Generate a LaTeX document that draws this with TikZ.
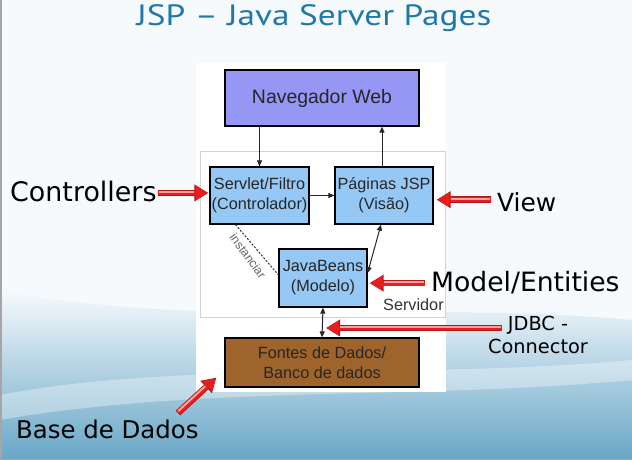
\documentclass[tikz,border=0pt]{standalone}
\usepackage{fontspec}
\setmainfont{Liberation Sans}
\newfontfamily\labelfont{DejaVu Sans}
\newfontfamily\titlefont{PT Sans}
\usetikzlibrary{arrows.meta,calc}
\definecolor{navfill}{RGB}{150,150,245}
\definecolor{boxfill}{RGB}{150,200,245}
\definecolor{dbfill}{RGB}{158,100,44}
\definecolor{titlecol}{RGB}{30,120,170}
\definecolor{calloutred}{RGB}{232,30,30}
\definecolor{callouthi}{RGB}{255,160,160}
\definecolor{calloutedge}{RGB}{175,25,25}
\definecolor{bgtop}{RGB}{246,250,253}
\definecolor{bgbot}{RGB}{104,166,198}
\tikzset{
  diabox/.style={draw=black, line width=1.2bp, inner sep=0pt, align=center,
    text=black!85, font=\fontsize{16.3}{20}\selectfont},
  arr/.style={draw=black!85, line width=1bp, -{Triangle[length=6bp,width=5bp]}},
  biarr/.style={draw=black!85, line width=1bp, {Triangle[length=6bp,width=5bp]}-{Triangle[length=6bp,width=5bp]}},
  callout/.style={draw=calloutedge, line width=6.5bp, -{Triangle[length=14bp,width=16bp]},
    postaction={draw=calloutred, line width=4.8bp, -{Triangle[length=11.5bp,width=13.5bp]}, shorten >=1.2bp},
    postaction={draw=callouthi, line width=2bp, -, shorten >=14bp, shorten <=1.5bp, transform canvas={#1}}},
  callout/.default={yshift=1.2bp},
  lbl/.style={inner sep=0pt, anchor=base west, text=black}
}
\begin{document}
\begin{tikzpicture}[x=1bp,y=-1bp]
\useasboundingbox (0,0) rectangle (632,460);
% slide background
\fill[bgtop] (0,0) rectangle (632,460);
\shade[top color=bgtop, bottom color=bgbot]
  (0,290) .. controls (200,330) and (420,300) .. (632,320) -- (632,460) -- (0,460) -- cycle;
\fill[white, opacity=0.35] (0,395) .. controls (180,360) and (420,380) .. (632,360)
  -- (632,380) .. controls (420,400) and (200,385) .. (0,420) -- cycle;
\draw[gray!70, line width=1.5bp] (0.75,0) -- (0.75,459.25) -- (632,459.25);
% white picture area
\fill[white] (196,63) rectangle (446,392);
% title
\node[inner sep=0pt, anchor=base, text=titlecol, font=\titlefont\fontsize{29.5}{36}\selectfont] (title) at (314,26) {\scalebox{1.2}[1]{JSP – Java Server Pages}};
% server panel
\node[draw=gray!35, line width=0.8bp, fill=white, minimum width=245bp, minimum height=166bp, inner sep=0pt] (server) at (322.5,234) {};
\node[inner sep=0pt, anchor=base west, text=black!80, font=\fontsize{16.3}{20}\selectfont] (servidor) at (383,311) {Servidor};
% diagram boxes
\node[diabox, fill=navfill, minimum width=194bp, minimum height=56bp, font=\fontsize{19.5}{23}\selectfont] (nav) at (322,98) {Navegador Web};
\node[diabox, fill=boxfill, minimum width=99bp, minimum height=57bp] (servlet) at (259.5,195.5) {Servlet/Filtro\\(Controlador)};
\node[diabox, fill=boxfill, minimum width=98bp, minimum height=57bp] (jsp) at (384,195.5) {Páginas JSP\\(Visão)};
\node[diabox, fill=boxfill, minimum width=88bp, minimum height=58bp] (beans) at (323,278) {JavaBeans\\(Modelo)};
\node[diabox, fill=dbfill, minimum width=194bp, minimum height=49bp] (fontes) at (322,362.5) {Fontes de Dados/\\Banco de dados};
% diagram connectors
\draw[arr] (nav.south -| servlet.north) -- (servlet.north);
\draw[arr] (jsp.north) ++(-2,0) coordinate (jspn) -- (jspn |- nav.south);
\draw[arr] (servlet.east) -- (jsp.west);
\draw[biarr] ($(beans.east)+(0,-5)$) -- ($(jsp.south)+(-3,0)$);
\draw[biarr] (beans.south) -- (fontes.north);
\draw[draw=black!80, line width=1bp, dash pattern=on 2bp off 1.6bp]
  ($(servlet.south)+(-24,0)$) -- ($(beans.west)+(0,-3)$);
\node[inner sep=0pt, rotate=-54, text=black!60, font=\fontsize{12.3}{14}\selectfont] (inst) at (248,256) {instanciar};
% callout labels
\node[lbl, font=\labelfont\fontsize{27}{32}\selectfont] (ctrl) at (10,202) {Controllers};
\node[lbl, font=\labelfont\fontsize{25}{30}\selectfont] (view) at (497,212) {View};
\node[lbl, font=\labelfont\fontsize{26.7}{32}\selectfont] (model) at (431,292) {Model/Entities};
\node[inner sep=0pt, anchor=base, align=center, text=black, font=\labelfont\fontsize{19.4}{23}\selectfont] (jdbc) at (538,353) {JDBC -\\Connector};
\node[lbl, font=\labelfont\fontsize{24.5}{30}\selectfont] (base) at (16,438) {Base de Dados};
\coordinate (jdbcstart) at (502,328);
\coordinate (basestart) at (178,413);
% callout arrows
\draw[callout] ($(ctrl.east)+(1,1)$) -- ($(ctrl.east -| servlet.west)+(-1,1)$);
\draw[callout] ($(view.west)+(-6,-3)$) -- ($(view.west -| jsp.east)+(3,-3)$);
\draw[callout] ($(model.west)+(-6,0)$) -- ($(model.west -| beans.east)+(2,0)$);
\draw[callout] (jdbcstart) -- ($(jdbcstart -| beans.south)+(3,0)$);
\draw[callout={xshift=-0.9bp,yshift=0.9bp}] (basestart) -- ($(fontes.south west)+(-8,-10)$);
\end{tikzpicture}
\end{document}
